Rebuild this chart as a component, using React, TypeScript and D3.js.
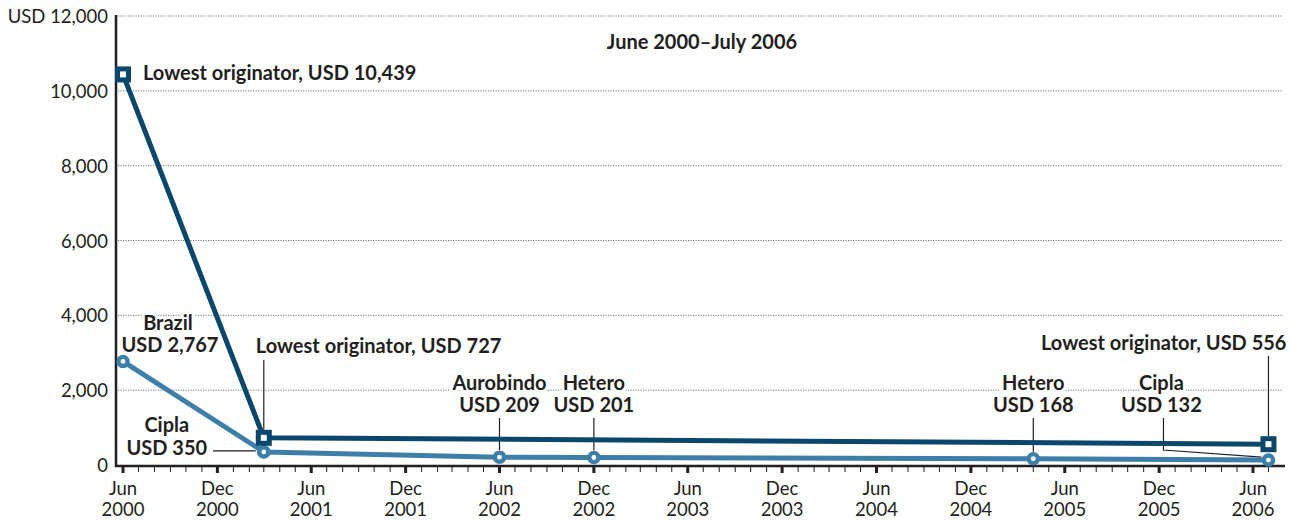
import * as d3 from "d3";

const originatorDates = ["2000-06", "2001-03", "2006-07"];
const originatorValues = [10439, 727, 556];

const genericDates = ["2000-06", "2001-03", "2002-06", "2002-12", "2005-04", "2006-07"];
const genericValues = [2767, 350, 209, 201, 168, 132];
const genericLabels = [
  ["Brazil", "USD 2,767"],
  ["Cipla", "USD 350"],
  ["Aurobindo", "USD 209"],
  ["Hetero", "USD 201"],
  ["Hetero", "USD 168"],
  ["Cipla", "USD 132"],
];
const originatorLabels = [
  "Lowest originator, USD 10,439",
  "Lowest originator, USD 727",
  "Lowest originator, USD 556",
];

const yTicks = [0, 2000, 4000, 6000, 8000, 10000, 12000];
const title = "June 2000\u2013July 2006";

const W = 1294;
const H = 521;
const DARK = "#0b466c";
const LIGHT = "#3e7fa9";
const INK = "#231f20";
const FONT = "Lato, 'Noto Sans', sans-serif";

const parse = d3.timeParse("%Y-%m");

export default function App() {
  // Jun 2000 .. Jun 2006 ticks
  const x = d3
    .scaleTime()
    .domain([parse("2000-06")!, parse("2006-06")!])
    .range([123, 1253]);
  const y = d3.scaleLinear().domain([0, 12000]).range([465, 16]);

  const orig = originatorDates.map((d, i) => ({ px: x(parse(d)!), py: y(originatorValues[i]) }));
  const gen = genericDates.map((d, i) => ({ px: x(parse(d)!), py: y(genericValues[i]) }));

  const line = d3
    .line<{ px: number; py: number }>()
    .x((d) => d.px)
    .y((d) => d.py);

  const months = d3.timeMonth.range(parse("2000-06")!, parse("2006-08")!);
  const fmtMon = d3.timeFormat("%b");
  const fmtYr = d3.timeFormat("%Y");

  const halo = {
    stroke: "#fff",
    strokeWidth: 6,
    paintOrder: "stroke" as const,
    strokeLinejoin: "round" as const,
  };

  const boldText = (
    tx: number,
    ty: number,
    s: string,
    anchor: "start" | "middle" | "end",
    key?: string
  ) => (
    <text
      key={key}
      x={tx}
      y={ty}
      textAnchor={anchor}
      fontWeight={700}
      fontSize={20}
      fill={INK}
      {...halo}
    >
      {s}
    </text>
  );

  return (
    <svg
      width={W}
      height={H}
      style={{ position: "absolute", left: 0, top: 0, fontFamily: FONT }}
    >
      <rect width={W} height={H} fill="#fff" />

      {/* gridlines */}
      {yTicks.slice(1).map((t) => (
        <line
          key={t}
          x1={118}
          x2={1283}
          y1={y(t)}
          y2={y(t)}
          stroke="#777"
          strokeWidth={1}
          strokeDasharray="1.2 1.3"
        />
      ))}

      {/* y labels */}
      {yTicks.map((t) => (
        <text
          key={t}
          x={108}
          y={y(t) + 7}
          textAnchor="end"
          fontSize={18.5}
          fill={INK}
        >
          {t === 12000 ? "USD 12,000" : d3.format(",")(t)}
        </text>
      ))}

      {/* title */}
      {boldText(702, 49, title, "middle")}

      {/* x ticks */}
      {months.map((m) => {
        const major = m.getMonth() === 5 || m.getMonth() === 11;
        const mx = x(m);
        return (
          <g key={+m}>
            <line
              x1={mx}
              x2={mx}
              y1={466}
              y2={major ? 473 : 472}
              stroke={INK}
              strokeWidth={major ? 3 : 1}
            />
            {major && (
              <text x={mx} y={495} textAnchor="middle" fontSize={18.5} fill={INK}>
                <tspan x={mx}>{fmtMon(m)}</tspan>
                <tspan x={mx} dy={21}>
                  {fmtYr(m)}
                </tspan>
              </text>
            )}
          </g>
        );
      })}

      {/* axes */}
      <line x1={116} x2={116} y1={15} y2={467} stroke={INK} strokeWidth={2.5} />
      <line x1={115} x2={1285} y1={466} y2={466} stroke={INK} strokeWidth={2.5} />

      {/* leaders */}
      <g stroke={INK} strokeWidth={1.2} fill="none">
        <line x1={orig[1].px} x2={orig[1].px} y1={360} y2={orig[1].py - 8} />
        <line x1={213} x2={gen[1].px - 8} y1={gen[1].py - 1} y2={gen[1].py - 1} />
        {[2, 3, 4].map((i) => (
          <line key={i} x1={gen[i].px} x2={gen[i].px} y1={418} y2={gen[i].py - 7} />
        ))}
        <polyline
          points={`${gen[5].px - 105},418 ${gen[5].px - 105},450 ${gen[5].px - 7},${gen[5].py - 3}`}
        />
        <line x1={orig[2].px} x2={orig[2].px} y1={356} y2={orig[2].py - 8} />
      </g>

      {/* series */}
      <path d={line(gen)!} fill="none" stroke={LIGHT} strokeWidth={5} strokeLinejoin="round" />
      <path d={line(orig)!} fill="none" stroke={DARK} strokeWidth={5} strokeLinejoin="miter" />

      {gen.map((p, i) => (
        <circle key={i} cx={p.px} cy={p.py} r={4.6} fill="#fff" stroke={LIGHT} strokeWidth={4.4} />
      ))}
      {orig.map((p, i) => (
        <rect
          key={i}
          x={p.px - 5.5}
          y={p.py - 5.5}
          width={11}
          height={11}
          fill="#fff"
          stroke={DARK}
          strokeWidth={5}
        />
      ))}

      {/* labels */}
      {boldText(orig[0].px + 20, orig[0].py + 6, originatorLabels[0], "start")}
      {boldText(orig[1].px - 8, 353, originatorLabels[1], "start")}
      {boldText(orig[2].px + 18, 350, originatorLabels[2], "end")}

      {boldText(gen[0].px + 45, 330, genericLabels[0][0], "middle")}
      {boldText(gen[0].px + 47, 352, genericLabels[0][1], "middle")}

      {boldText(gen[1].px - 97, 432, genericLabels[1][0], "middle")}
      {boldText(gen[1].px - 97, 455, genericLabels[1][1], "middle")}

      {[2, 3, 4].map((i) => (
        <g key={i}>
          {boldText(gen[i].px, 390, genericLabels[i][0], "middle")}
          {boldText(gen[i].px, 412, genericLabels[i][1], "middle")}
        </g>
      ))}

      {boldText(gen[5].px - 107, 390, genericLabels[5][0], "middle")}
      {boldText(gen[5].px - 107, 412, genericLabels[5][1], "middle")}
    </svg>
  );
}
